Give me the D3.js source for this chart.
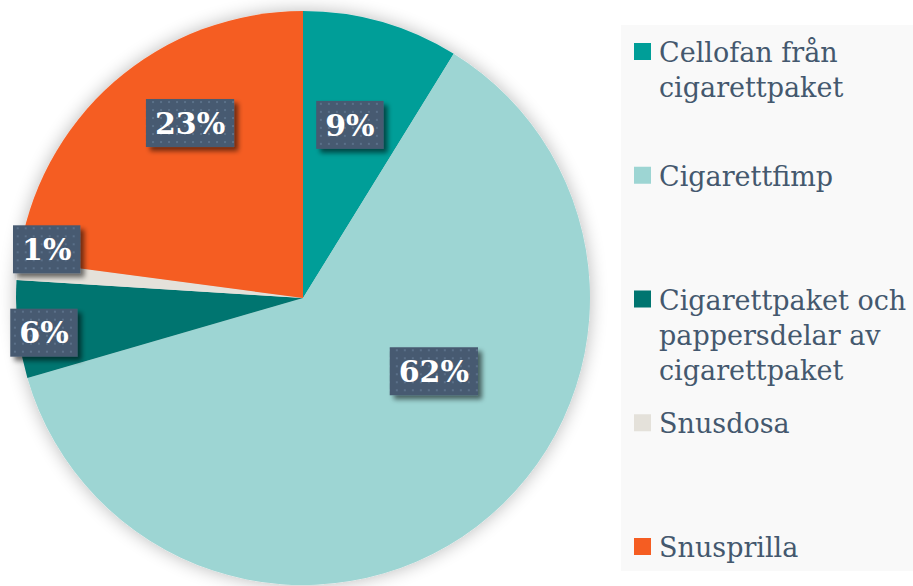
<!DOCTYPE html>
<html>
<head>
<meta charset="utf-8">
<script src="https://cdn.jsdelivr.net/npm/d3@7"></script>
<style>
  html, body { margin: 0; padding: 0; background: #fff; }
  svg { display: block; }
</style>
</head>
<body>
<script>
const categories = ["Cellofan från cigarettpaket", "Cigarettfimp", "Cigarettpaket och pappersdelar av cigarettpaket", "Snusdosa", "Snusprilla"]
const values = [8.8, 61.7, 5.5, 1.1, 22.9]
const labels = ["9%", "62%", "6%", "1%", "23%"]
const colors = ["#009e98", "#9dd5d3", "#007570", "#e4e1da", "#f55d22"]
// legend text split into lines as in the original
const legendLines = [["Cellofan från", "cigarettpaket"], ["Cigarettfimp"], ["Cigarettpaket och", "pappersdelar av", "cigarettpaket"], ["Snusdosa"], ["Snusprilla"]]

const width = 913
const height = 586
const cx = 303
const cy = 298
const radius = 287
const serif = "'DejaVu Serif', Georgia, serif"

// label placement: [fraction of radius, angle nudge in degrees]
const labelPlace = [[0.63, -0.8], [0.52, -24], [0.91, -1], [0.91, 5.5], [0.73, 8.6]]

const svg = d3.select("body").append("svg")
    .attr("width", width)
    .attr("height", height)

const defs = svg.append("defs")

const glow = defs.append("filter").attr("id", "glow")
    .attr("x", "-20%").attr("y", "-20%").attr("width", "140%").attr("height", "140%")
glow.append("feGaussianBlur").attr("in", "SourceAlpha").attr("stdDeviation", 9)
glow.append("feComponentTransfer").append("feFuncA").attr("type", "linear").attr("slope", 0.28)
const gm = glow.append("feMerge")
gm.append("feMergeNode")
gm.append("feMergeNode").attr("in", "SourceGraphic")

const boxShadow = defs.append("filter").attr("id", "boxShadow")
    .attr("x", "-30%").attr("y", "-30%").attr("width", "160%").attr("height", "160%")
boxShadow.append("feGaussianBlur").attr("in", "SourceAlpha").attr("stdDeviation", 2.5)
boxShadow.append("feOffset").attr("dx", 4).attr("dy", 4).attr("result", "off")
boxShadow.append("feComponentTransfer").append("feFuncA").attr("type", "linear").attr("slope", 0.55)
const bm = boxShadow.append("feMerge")
bm.append("feMergeNode")
bm.append("feMergeNode").attr("in", "SourceGraphic")

const dots = defs.append("pattern").attr("id", "dots")
    .attr("width", 8).attr("height", 8).attr("patternUnits", "userSpaceOnUse")
dots.append("rect").attr("width", 8).attr("height", 8).attr("fill", "#465a71")
dots.append("rect").attr("x", 2).attr("y", 2).attr("width", 2).attr("height", 2).attr("fill", "#5b7089")

// legend background
svg.append("rect")
    .attr("x", 621).attr("y", 25)
    .attr("width", width - 621).attr("height", 546)
    .attr("fill", "#f9f9f9")

const pie = d3.pie().sort(null).value(d => d)
const arcs = pie(values)
const arc = d3.arc().innerRadius(0).outerRadius(radius)

const g = svg.append("g").attr("transform", `translate(${cx},${cy})`)

g.append("g")
    .attr("filter", "url(#glow)")
    .selectAll("path")
    .data(arcs)
    .join("path")
    .attr("d", arc)
    .attr("fill", (d, i) => colors[i])

const lab = g.append("g")
    .selectAll("g")
    .data(arcs)
    .join("g")
    .attr("transform", (d, i) => {
        const [f, nudge] = labelPlace[i]
        const a = (d.startAngle + d.endAngle) / 2 + nudge * Math.PI / 180
        const r = radius * f
        return `translate(${r * Math.sin(a)},${-r * Math.cos(a) + 1.5})`
    })

lab.append("text")
    .attr("text-anchor", "middle")
    .attr("dy", "0.36em")
    .style("font", `bold 30px ${serif}`)
    .attr("fill", "#fff")
    .text((d, i) => labels[i])

lab.each(function () {
    const grp = d3.select(this)
    const bb = grp.select("text").node().getBBox()
    const padX = 9
    grp.insert("rect", "text")
        .attr("x", bb.x - padX)
        .attr("y", -24)
        .attr("width", bb.width + padX * 2)
        .attr("height", 48)
        .attr("fill", "url(#dots)")
        .attr("filter", "url(#boxShadow)")
})

// legend
const legendY = d3.scaleLinear().domain([0, categories.length - 1]).range([43, 538])

const leg = svg.append("g")
    .selectAll("g")
    .data(categories)
    .join("g")
    .attr("transform", (d, i) => `translate(634,${legendY(i)})`)

leg.append("rect")
    .attr("width", 17).attr("height", 17)
    .attr("fill", (d, i) => colors[i])

leg.append("text")
    .style("font", `27px ${serif}`)
    .attr("fill", "#44586e")
    .selectAll("tspan")
    .data((d, i) => legendLines[i])
    .join("tspan")
    .attr("x", 25)
    .attr("y", (d, j) => 19 + j * 35)
    .text(d => d)
</script>
</body>
</html>
